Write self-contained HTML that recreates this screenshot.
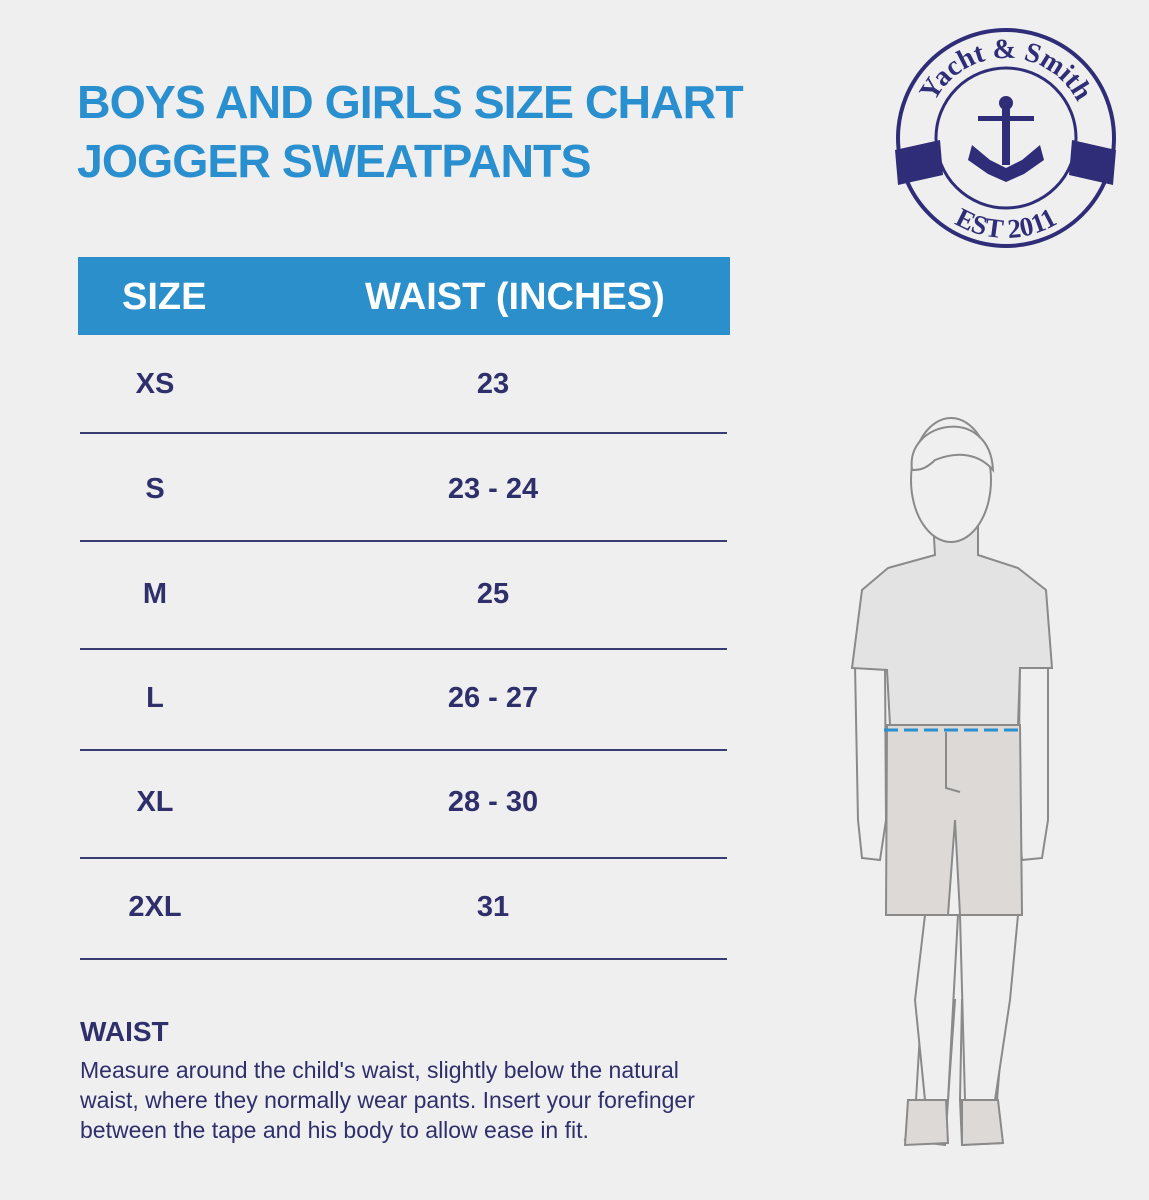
<!DOCTYPE html>
<html><head><meta charset="utf-8"><style>
body{margin:0;width:1149px;height:1200px;background:#efefef;font-family:"Liberation Sans",sans-serif;position:relative;overflow:hidden}
.t{position:absolute;left:77px;color:#2a8fcf;font-weight:bold;font-size:46.5px;letter-spacing:-1px;line-height:1}
.hdr{position:absolute;left:78px;top:257px;width:652px;height:78px;background:#2b8fcc;color:#fff;font-weight:bold;font-size:38px}
.c{position:absolute;color:#2e2f6b;font-weight:bold;font-size:29px;text-align:center;transform:translateX(-50%)}
.ln{position:absolute;left:80px;width:647px;height:2px;background:#3a3b70}
</style></head><body>
<div class="t" style="top:79px">BOYS AND GIRLS SIZE CHART</div>
<div class="t" style="top:138px">JOGGER SWEATPANTS</div>
<div class="hdr"><span style="position:absolute;left:44px;top:19px">SIZE</span><span style="position:absolute;left:287px;top:19px">WAIST (INCHES)</span></div>
<div class="c" style="left:155px;top:368px">XS</div><div class="c" style="left:493px;top:368px">23</div>
<div class="ln" style="top:432px"></div>
<div class="c" style="left:155px;top:473px">S</div><div class="c" style="left:493px;top:473px">23 - 24</div>
<div class="ln" style="top:540px"></div>
<div class="c" style="left:155px;top:578px">M</div><div class="c" style="left:493px;top:578px">25</div>
<div class="ln" style="top:648px"></div>
<div class="c" style="left:155px;top:682px">L</div><div class="c" style="left:493px;top:682px">26 - 27</div>
<div class="ln" style="top:749px"></div>
<div class="c" style="left:155px;top:786px">XL</div><div class="c" style="left:493px;top:786px">28 - 30</div>
<div class="ln" style="top:857px"></div>
<div class="c" style="left:155px;top:891px">2XL</div><div class="c" style="left:493px;top:891px">31</div>
<div class="ln" style="top:958px"></div>
<div style="position:absolute;left:80px;top:1016px;color:#2e2f6b;font-weight:bold;font-size:28px">WAIST</div>
<div style="position:absolute;left:80px;top:1055px;width:645px;color:#2e2f6b;font-size:23px;line-height:30px">Measure around the child's waist, slightly below the natural waist, where they normally wear pants. Insert your forefinger between the tape and his body to allow ease in fit.</div>
<svg style="position:absolute;left:0;top:0" width="1149" height="1200">
<g fill="none" stroke="#2f2d78">
<circle cx="1006" cy="138" r="108" stroke-width="4"/>
<circle cx="1006" cy="138" r="70" stroke-width="3"/>
</g>
<path d="M895 150 L940 140 L943 175 L898 185Z M1072 140 L1116 150 L1113 185 L1069 175Z" fill="#2f2d78"/>
<g fill="#2f2d78"><circle cx="1006" cy="103" r="7"/><rect x="1002" y="105" width="8" height="60"/><rect x="978" y="116" width="56" height="5"/>
<path d="M972 145 L990 160 L1006 168 L1022 160 L1040 145 L1044 160 L1024 174 L1006 182 L988 174 L968 160Z"/></g>
<defs><path id="ta" d="M926 138 A80 80 0 0 1 1086 138"/><path id="tb" d="M912 172 A100 100 0 0 0 1100 172"/></defs>
<text font-family="Liberation Serif,serif" font-weight="bold" font-size="28" fill="#2f2d78"><textPath href="#ta" startOffset="50%" text-anchor="middle">Yacht &amp; Smith</textPath></text>
<text font-family="Liberation Serif,serif" font-weight="bold" font-size="27" fill="#2f2d78"><textPath href="#tb" startOffset="50%" text-anchor="middle">EST 2011</textPath></text>
<g stroke="#8a8a8a" stroke-width="2" fill="#eeeeee">
<path d="M922 1000 L916 1100 L905 1140 L945 1145 L948 1100 L955 1000Z M962 1000 L960 1100 L962 1145 L1002 1143 L997 1100 L1005 1000Z"/>
<path d="M925 915 L915 1000 L925 1100 L948 1100 L958 915Z M960 915 L965 1100 L995 1100 L1010 1000 L1018 915Z" fill="#efefef"/>
<path d="M908 1100 L946 1100 L948 1143 L905 1145Z M962 1100 L998 1100 L1003 1143 L962 1145Z" fill="#dcd9d7"/>
<path d="M855 665 L858 820 L862 858 L880 860 L886 820 L885 665Z M1020 665 L1018 820 L1022 860 L1042 858 L1048 820 L1048 665Z" fill="#efefef"/>
<path d="M933 520 L935 555 L888 568 L862 590 L852 668 L887 670 L890 725 L1018 725 L1020 668 L1052 668 L1046 590 L1018 568 L978 555 L978 520Z" fill="#e3e3e3"/>
<ellipse cx="951" cy="480" rx="40" ry="62" fill="#efefef"/>
<path d="M912 470 C905 420 990 405 993 470 C980 455 960 450 935 460 C925 470 918 470 912 470Z" fill="#efefef"/>
<path d="M887 725 L1020 725 L1022 915 L960 915 L955 820 L948 915 L886 915Z" fill="#dcd9d7"/>
<path d="M946 732 L946 788 L960 792" fill="none"/>
</g>
<line x1="884" y1="730" x2="1024" y2="730" stroke="#2a8fcf" stroke-width="3" stroke-dasharray="14 6"/>
</svg>
</body></html>
